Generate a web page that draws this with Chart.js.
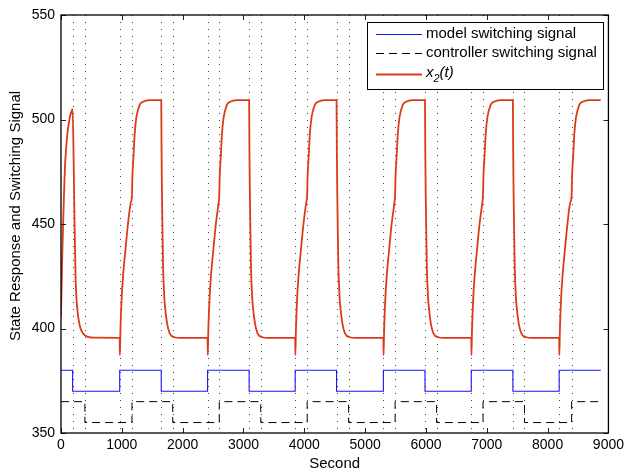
<!DOCTYPE html>
<html>
<head>
<meta charset="utf-8">
<title>State Response and Switching Signal</title>
<script src="https://cdn.jsdelivr.net/npm/chart.js@4.4.1/dist/chart.umd.min.js"></script>
<style>
  html, body { margin: 0; padding: 0; background: #fff; }
  #wrap { width: 628px; height: 473px; }
</style>
</head>
<body>
<div id="wrap"><canvas id="chart" width="628" height="473"></canvas></div>
<script>
// Axis ticks
const xTicks = [0, 1000, 2000, 3000, 4000, 5000, 6000, 7000, 8000, 9000];
const yTicks = [350, 400, 450, 500, 550];

// Model switching signal (time at which each level starts)
const modelTime  = [0, 191, 965, 1648, 2410, 3093, 3850, 4530, 5300, 5984, 6745, 7429, 8190, 8874];
const modelLevel = [380, 370, 380, 370, 380, 370, 380, 370, 380, 370, 380, 370, 380, 380];

// Controller switching signal
const ctrlTime  = [0, 393, 1167, 1837, 2602, 3284, 4047, 4729, 5493, 6175, 6938, 7620, 8395, 8874];
const ctrlLevel = [365, 355, 365, 355, 365, 355, 365, 355, 365, 355, 365, 355, 365, 365];

// State response x2(t)
const x2Time = [
  0, 16, 33, 49, 70, 103, 142, 180, 191, 208, 224, 240, 267, 306, 360, 442, 551,
  965, 968, 977, 998, 1020, 1064, 1101, 1145, 1167, 1173, 1183, 1195, 1211, 1239, 1293, 1347, 1456,
  1648, 1653, 1660, 1667, 1678, 1693, 1705, 1744, 1787, 1869, 1953,
  2410, 2413, 2422, 2443, 2465, 2509, 2546, 2590, 2602, 2608, 2618, 2630, 2646, 2674, 2728, 2782, 2891,
  3093, 3098, 3105, 3112, 3123, 3138, 3150, 3189, 3232, 3314, 3398,
  3850, 3853, 3862, 3883, 3905, 3949, 3986, 4030, 4047, 4053, 4063, 4075, 4091, 4119, 4173, 4227, 4336,
  4530, 4535, 4542, 4549, 4560, 4575, 4587, 4626, 4669, 4751, 4835,
  5300, 5303, 5312, 5333, 5355, 5399, 5436, 5480, 5493, 5499, 5509, 5521, 5537, 5565, 5619, 5673, 5782,
  5984, 5989, 5996, 6003, 6014, 6029, 6041, 6080, 6123, 6205, 6289,
  6745, 6748, 6757, 6778, 6800, 6844, 6881, 6925, 6938, 6944, 6954, 6966, 6982, 7010, 7064, 7118, 7227,
  7429, 7434, 7441, 7448, 7459, 7474, 7486, 7525, 7568, 7650, 7734,
  8190, 8193, 8202, 8223, 8245, 8289, 8326, 8370, 8395, 8401, 8411, 8423, 8439, 8467, 8521, 8575, 8684, 8874
];
const x2Value = [
  405.6, 428.8, 448, 464, 480, 492.6, 500.6, 504.5, 505, 480, 448, 424, 409.7, 401.7, 397.7, 396, 395.6,
  395.5, 387.3, 399, 415, 425, 439, 450, 460, 464, 472, 478, 484, 493, 501, 507, 508.5, 509.3,
  509.3, 485, 465, 450, 430, 418, 412, 402.5, 397.7, 395.8, 395.5,
  395.5, 387.3, 399, 415, 425, 439, 450, 460, 464, 472, 478, 484, 493, 501, 507, 508.5, 509.3,
  509.3, 485, 465, 450, 430, 418, 412, 402.5, 397.7, 395.8, 395.5,
  395.5, 387.3, 399, 415, 425, 439, 450, 460, 464, 472, 478, 484, 493, 501, 507, 508.5, 509.3,
  509.3, 485, 465, 450, 430, 418, 412, 402.5, 397.7, 395.8, 395.5,
  395.5, 387.3, 399, 415, 425, 439, 450, 460, 464, 472, 478, 484, 493, 501, 507, 508.5, 509.3,
  509.3, 485, 465, 450, 430, 418, 412, 402.5, 397.7, 395.8, 395.5,
  395.5, 387.3, 399, 415, 425, 439, 450, 460, 464, 472, 478, 484, 493, 501, 507, 508.5, 509.3,
  509.3, 485, 465, 450, 430, 418, 412, 402.5, 397.7, 395.8, 395.5,
  395.5, 387.3, 399, 415, 425, 439, 450, 460, 464, 472, 478, 484, 493, 501, 507, 508.5, 509.3, 509.3
];

const FONT = "'Liberation Sans', Arial, Helvetica, sans-serif";
const RED = '#dd3a1a';
const BLUE = '#1414ff';

function toPoints(xs, ys) {
  return xs.map((x, i) => ({ x: x, y: ys[i] }));
}

// Switching instants get a dotted vertical line (not the start or the end)
function switchInstants() {
  return modelTime.slice(1, -1).concat(ctrlTime.slice(1, -1));
}

// Dotted lines, box, inward ticks, legend and y title
const framePlugin = {
  id: 'frame',
  beforeDatasetsDraw(chart) {
    const { ctx, chartArea: a, scales: { x } } = chart;
    ctx.save();
    ctx.strokeStyle = '#444';
    ctx.lineWidth = 1;
    ctx.setLineDash([1, 6]);
    switchInstants().forEach(t => {
      const px = Math.round(x.getPixelForValue(t)) + 0.5;
      ctx.beginPath();
      ctx.moveTo(px, a.top);
      ctx.lineTo(px, a.bottom);
      ctx.stroke();
    });
    ctx.restore();
  },
  afterDraw(chart) {
    const { ctx, chartArea: a, scales: { x, y } } = chart;
    ctx.save();

    // inward ticks
    ctx.strokeStyle = '#222';
    ctx.lineWidth = 1;
    xTicks.forEach(v => {
      const px = Math.round(x.getPixelForValue(v)) + 0.5;
      ctx.beginPath();
      ctx.moveTo(px, a.bottom); ctx.lineTo(px, a.bottom - 5);
      ctx.moveTo(px, a.top); ctx.lineTo(px, a.top + 5);
      ctx.stroke();
    });
    yTicks.forEach(v => {
      const py = Math.round(y.getPixelForValue(v)) + 0.5;
      ctx.beginPath();
      ctx.moveTo(a.left, py); ctx.lineTo(a.left + 5, py);
      ctx.moveTo(a.right, py); ctx.lineTo(a.right - 5, py);
      ctx.stroke();
    });

    // box
    ctx.strokeStyle = '#000';
    ctx.lineWidth = 1.3;
    ctx.strokeRect(a.left, a.top, a.right - a.left, a.bottom - a.top);

    // legend
    const lx = 367, ly = 22, lw = 236, lh = 67;
    ctx.fillStyle = '#fff';
    ctx.fillRect(lx, ly, lw, lh);
    ctx.strokeStyle = '#000';
    ctx.lineWidth = 1;
    ctx.strokeRect(lx + 0.5, ly + 0.5, lw, lh);

    const rows = [
      { color: BLUE, dash: [], width: 1, y: 34 },
      { color: '#000', dash: [8, 5], width: 1, y: 53 },
      { color: RED, dash: [], width: 1.8, y: 74 }
    ];
    rows.forEach(r => {
      ctx.beginPath();
      ctx.strokeStyle = r.color;
      ctx.lineWidth = r.width;
      ctx.setLineDash(r.dash);
      ctx.moveTo(376, r.y + 0.5);
      ctx.lineTo(422, r.y + 0.5);
      ctx.stroke();
    });
    ctx.setLineDash([]);
    ctx.fillStyle = '#000';
    ctx.textBaseline = 'middle';
    ctx.textAlign = 'left';
    ctx.font = '15px ' + FONT;
    ctx.fillText('model switching signal', 426, 34);
    ctx.fillText('controller switching signal', 426, 53);
    let tx = 426;
    ctx.font = 'italic 15px ' + FONT;
    ctx.fillText('x', tx, 73);
    tx += ctx.measureText('x').width;
    ctx.font = 'italic 11px ' + FONT;
    ctx.fillText('2', tx, 79);
    tx += ctx.measureText('2').width;
    ctx.font = 'italic 15px ' + FONT;
    ctx.fillText('(t)', tx, 73);

    // y axis title
    ctx.translate(16, 216);
    ctx.rotate(-Math.PI / 2);
    ctx.textAlign = 'center';
    ctx.font = '15px ' + FONT;
    ctx.fillText('State Response and Switching Signal', 0, 0);
    ctx.restore();
  }
};

Chart.defaults.font.family = FONT;
Chart.defaults.color = '#000';

new Chart(document.getElementById('chart').getContext('2d'), {
  type: 'line',
  data: {
    datasets: [
      {
        label: 'x2(t)',
        data: toPoints(x2Time, x2Value),
        borderColor: RED,
        borderWidth: 1.8,
        pointRadius: 0,
        cubicInterpolationMode: 'monotone',
        fill: false
      },
      {
        label: 'controller switching signal',
        data: toPoints(ctrlTime, ctrlLevel),
        borderColor: '#000',
        borderWidth: 1,
        borderDash: [8, 5],
        pointRadius: 0,
        stepped: true,
        fill: false
      },
      {
        label: 'model switching signal',
        data: toPoints(modelTime, modelLevel),
        borderColor: BLUE,
        borderWidth: 1.1,
        pointRadius: 0,
        stepped: true,
        fill: false
      }
    ]
  },
  options: {
    responsive: false,
    animation: false,
    devicePixelRatio: 1,
    layout: { padding: { top: 15, right: 17, left: 0, bottom: 0 } },
    plugins: { legend: { display: false }, tooltip: { enabled: false } },
    scales: {
      x: {
        type: 'linear',
        min: 0,
        max: 9000,
        afterBuildTicks: s => { s.ticks = xTicks.map(v => ({ value: v })); },
        afterFit: s => { s.height = 40; },
        ticks: { font: { size: 14 }, padding: 4, maxRotation: 0, autoSkip: false, callback: v => String(v) },
        grid: { display: false, drawTicks: false },
        border: { display: false },
        title: { display: true, text: 'Second', font: { size: 15 }, padding: { top: 0, bottom: 0 } }
      },
      y: {
        type: 'linear',
        min: 350,
        max: 550,
        afterBuildTicks: s => { s.ticks = yTicks.map(v => ({ value: v })); },
        afterFit: s => { s.width = 61; },
        ticks: { font: { size: 14 }, padding: 6, autoSkip: false, callback: v => String(v) },
        grid: { display: false, drawTicks: false },
        border: { display: false }
      }
    }
  },
  plugins: [framePlugin]
});
</script>
</body>
</html>
